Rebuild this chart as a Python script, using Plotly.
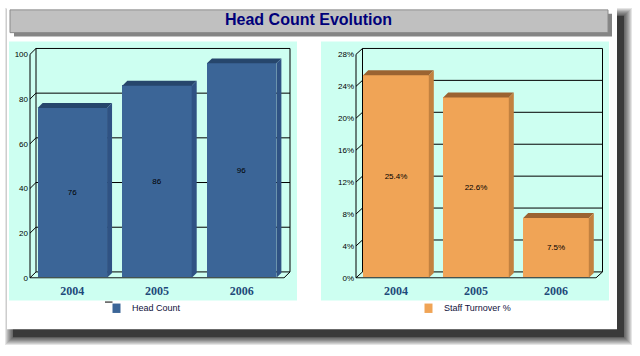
import plotly.graph_objects as go

# ---------------- data ----------------
years = ["2004", "2005", "2006"]
head_count = [76, 86, 96]
turnover = [25.4, 22.6, 7.5]
head_ticks = [0, 20, 40, 60, 80, 100]
turn_ticks = [0, 4, 8, 12, 16, 20, 24, 28]
turn_tick_labels = ["0%", "4%", "8%", "12%", "16%", "20%", "24%", "28%"]
head_text = [str(v) for v in head_count]
turn_text = [f"{v}%" for v in turnover]

title_text = "Head Count Evolution"
legend_left = "Head Count"
legend_right = "Staff Turnover %"

# ---------------- style ----------------
W, H = 640, 356
CYAN = "#cdfff1"
BLUE = ["#3b6597", "#26466c", "#2f5283"]     # front, top, side
ORANGE = ["#f0a456", "#9b6331", "#c2813f"]
CAT_COLOR = "#1f4a7a"


def px(x):
    return x / W


def py(y):
    return 1 - y / H


fig = go.Figure()
shapes = []
annotations = []

# card shadow
for k in range(8, 0, -1):
    shapes.append(dict(type="rect", xref="paper", yref="paper", layer="below",
                       x0=px(13 - k), x1=px(624 + k), y0=py(341 + k), y1=py(16 - k),
                       fillcolor="black", opacity=0.10, line=dict(width=0)))
shapes.append(dict(type="rect", xref="paper", yref="paper", layer="below",
                   x0=px(13), x1=px(624), y0=py(341), y1=py(16),
                   fillcolor="black", opacity=0.45, line=dict(width=0)))
# white card
shapes.append(dict(type="rect", xref="paper", yref="paper", layer="below",
                   x0=px(7), x1=px(617), y0=py(333), y1=py(7),
                   fillcolor="white", line=dict(width=0)))
# title bar shadow + bar
shapes.append(dict(type="rect", xref="paper", yref="paper", layer="below",
                   x0=px(14), x1=px(612), y0=py(37), y1=py(14),
                   fillcolor="#858585", line=dict(width=0)))
shapes.append(dict(type="rect", xref="paper", yref="paper", layer="below",
                   x0=px(10), x1=px(608), y0=py(33), y1=py(10),
                   fillcolor="#c0c0c0", line=dict(color="#8a8a8a", width=1)))
annotations.append(dict(text=f"<b>{title_text}</b>", xref="paper", yref="paper",
                        x=px(308), y=py(19.5), showarrow=False, xanchor="center", yanchor="middle",
                        font=dict(family="Liberation Sans, Arial", size=16, color="#00007a")))


def chart(idx, values, texts, ticks, ticklabels, ymax, colors,
          panel, FL, CW, DX, DY, legend_name, leg_x):
    xa = "x" if idx == 1 else f"x{idx}"
    ya = "y" if idx == 1 else f"y{idx}"
    xaxis_key = "xaxis" if idx == 1 else f"xaxis{idx}"
    yaxis_key = "yaxis" if idx == 1 else f"yaxis{idx}"
    FB, FT = 281, 55
    ys = (FB - FT) / ymax          # px per unit
    dxu, dyu = DX / CW, DY / ys
    bdxu, bdyu = 5 / CW, 5 / ys
    x_lo, x_hi = -0.5 - 1 / CW, 2.5 + (DX + 1) / CW
    y_lo, y_hi = -1 / ys, ymax + (DY + 1) / ys

    fig.update_layout(**{
        xaxis_key: dict(domain=[px(FL - 1), px(FL + 3 * CW + DX + 1)], range=[x_lo, x_hi],
                        anchor=ya, showgrid=False, zeroline=False, showline=False,
                        tickvals=[0, 1, 2], ticktext=years, ticks="", ticklabelstandoff=3,
                        tickfont=dict(family="Liberation Serif, Times New Roman", size=12,
                                      color=CAT_COLOR, weight="bold"),
                        fixedrange=True),
        yaxis_key: dict(domain=[py(FB + 1), py(FT - DY - 1)], range=[y_lo, y_hi],
                        anchor=xa, showgrid=False, zeroline=False, showline=False,
                        tickvals=ticks, ticktext=ticklabels, ticks="",
                        tickfont=dict(family="Liberation Sans, Arial", size=8, color="black"),
                        fixedrange=True),
    })

    # cyan panel
    shapes.append(dict(type="rect", xref="paper", yref="paper", layer="below",
                       x0=px(panel[0]), x1=px(panel[1]), y0=py(304), y1=py(42),
                       fillcolor=CYAN, line=dict(width=0)))

    def seg(x0, y0, x1, y1):
        shapes.append(dict(type="line", xref=xa, yref=ya, layer="below",
                           x0=x0, y0=y0, x1=x1, y1=y1,
                           line=dict(color="black", width=1)))

    bl, br = -0.5 + dxu, 2.5 + dxu
    # back wall gridlines
    for t in ticks:
        seg(bl, t + dyu, br, t + dyu)
        seg(-0.5, t, bl, t + dyu)
    seg(bl, dyu, bl, ymax + dyu)
    seg(br, dyu, br, ymax + dyu)
    # front axis and floor
    seg(-0.5, 0, -0.5, ymax)
    seg(-0.5, 0, 2.5, 0)
    seg(2.5, 0, br, dyu)

    width = 0.82
    fig.add_trace(go.Bar(x=[0, 1, 2], y=values, width=width, xaxis=xa, yaxis=ya,
                         marker=dict(color=colors[0], line=dict(width=0)),
                         text=texts, textposition="inside", insidetextanchor="middle",
                         textangle=0, constraintext="none",
                         textfont=dict(family="Liberation Sans, Arial", size=8, color="black"),
                         showlegend=False, hoverinfo="skip"))
    for i, v in enumerate(values):
        x0, x1 = i - width / 2, i + width / 2
        fig.add_trace(go.Scatter(
            x=[x0, x1, x1 + bdxu, x0 + bdxu, x0], y=[v, v, v + bdyu, v + bdyu, v],
            fill="toself", fillcolor=colors[1], line=dict(width=0), mode="lines",
            xaxis=xa, yaxis=ya, showlegend=False, hoverinfo="skip"))
        fig.add_trace(go.Scatter(
            x=[x1, x1 + bdxu, x1 + bdxu, x1, x1], y=[0, bdyu, v + bdyu, v, 0],
            fill="toself", fillcolor=colors[2], line=dict(width=0), mode="lines",
            xaxis=xa, yaxis=ya, showlegend=False, hoverinfo="skip"))

    # legend
    shapes.append(dict(type="rect", xref="paper", yref="paper", layer="above",
                       x0=px(leg_x), x1=px(leg_x + 8), y0=py(316.5), y1=py(307),
                       fillcolor=colors[0], line=dict(width=0)))
    annotations.append(dict(text=legend_name, xref="paper", yref="paper",
                            x=px(leg_x + 17), y=py(312), showarrow=False,
                            xanchor="left", yanchor="middle",
                            font=dict(family="Liberation Sans, Arial", size=9, color="#10103a")))


chart(1, head_count, head_text, head_ticks, [str(t) for t in head_ticks], 100, BLUE,
      (9, 297), 30, 254 / 3, 6, 6, legend_left, 112.5)
chart(2, turnover, turn_text, turn_ticks, turn_tick_labels, 28, ORANGE,
      (321, 609), 356, 80, 6.5, 6, legend_right, 424.5)

# small marker line near left legend
shapes.append(dict(type="line", xref="paper", yref="paper", layer="above",
                   x0=px(105), x1=px(112.5), y0=py(305.5), y1=py(305.5),
                   line=dict(color="black", width=1)))

fig.update_layout(width=W, height=H, margin=dict(l=0, r=0, t=0, b=0),
                  paper_bgcolor="white", plot_bgcolor="rgba(0,0,0,0)",
                  shapes=shapes, annotations=annotations, showlegend=False,
                  bargap=0)

fig.write_html("out.html", config=dict(displayModeBar=False),
               post_script="document.body.style.margin='0';document.body.style.overflow='hidden';")
